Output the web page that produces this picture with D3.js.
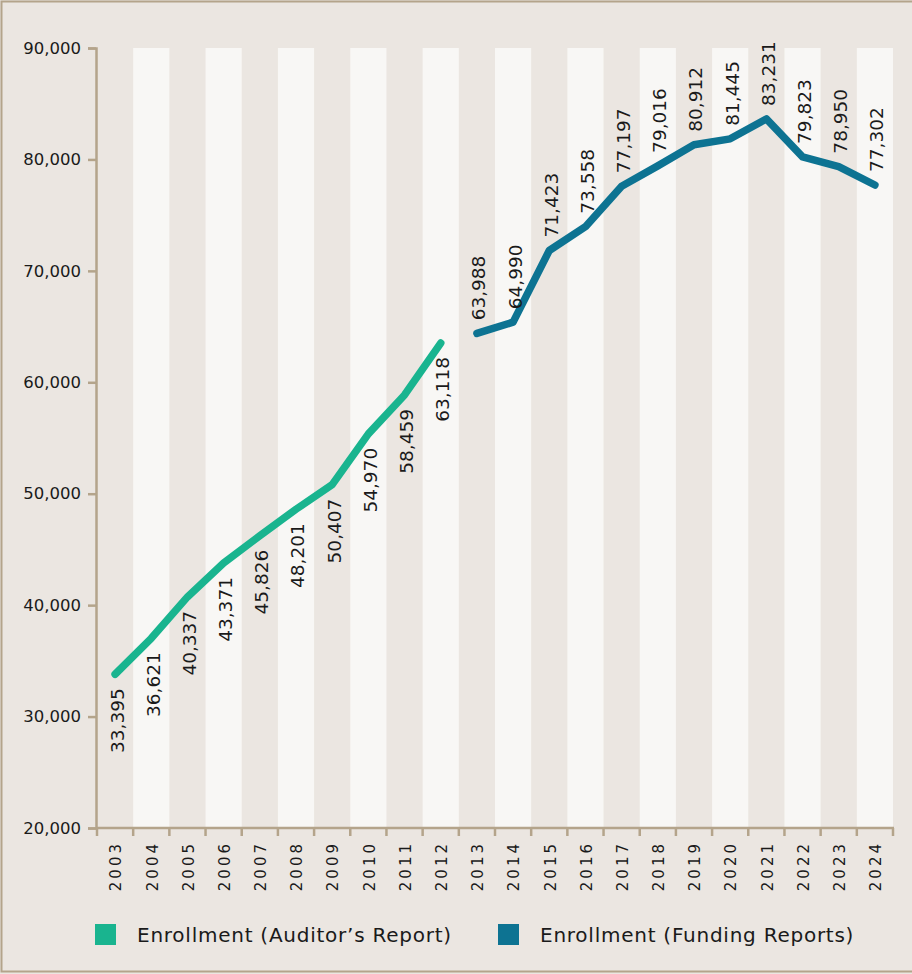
<!DOCTYPE html>
<html>
<head>
<meta charset="utf-8">
<script src="https://cdn.jsdelivr.net/npm/d3@7"></script>
<style>
  html,body{margin:0;padding:0;background:#ebe6e1;}
  svg{display:block;font-family:"DejaVu Sans",sans-serif;}
</style>
</head>
<body>
<div id="chart"></div>
<script>
const years = d3.range(2003, 2025).map(String);
const auditorYears = ['2003','2004','2005','2006','2007','2008','2009','2010','2011','2012'];
const auditorValues = [33395, 36621, 40337, 43371, 45826, 48201, 50407, 54970, 58459, 63118];
const fundingYears = ['2013','2014','2015','2016','2017','2018','2019','2020','2021','2022','2023','2024'];
const fundingValues = [63988, 64990, 71423, 73558, 77197, 79016, 80912, 81445, 83231, 79823, 78950, 77302];
const yTicks = [20000, 30000, 40000, 50000, 60000, 70000, 80000, 90000];
const legendItems = ["Enrollment (Auditor\u2019s Report)", "Enrollment (Funding Reports)"];

const W = 912, H = 974;
const GREEN = '#19b48f', BLUE = '#0d7392', TAN = '#b4a48b', INK = '#1a1a1a';
const FONT = '"DejaVu Sans",sans-serif';
const svg = d3.select('#chart').append('svg').attr('width', W).attr('height', H);

// outer frame
svg.append('rect').attr('x', 1.5).attr('y', 1.5).attr('width', W + 10).attr('height', H - 4)
  .attr('fill', '#ebe6e1').attr('stroke', TAN).attr('stroke-width', 2);

const x = d3.scaleBand().domain(years).range([97, 893]).padding(0);
const y = d3.scaleLinear().domain([20000, 90000]).range([828, 48]);
const yMark = y.copy().range([823.5, 43.5]); // marks sit a touch above the axis grid in the original

// alternating stripes
svg.append('g').selectAll('rect').data(years.filter(d => +d % 2 === 0)).join('rect')
  .attr('x', d => x(d)).attr('y', y(90000))
  .attr('width', x.bandwidth()).attr('height', y(20000) - y(90000))
  .attr('fill', '#f8f7f5');

// y axis
const yAxis = svg.append('g').attr('transform', 'translate(96,0)')
  .call(d3.axisLeft(y).tickValues(yTicks).tickFormat(d3.format(',')).tickSize(8).tickPadding(7));
yAxis.select('.domain').attr('stroke', TAN).attr('stroke-width', 2.5);
yAxis.selectAll('.tick line').attr('stroke', TAN).attr('stroke-width', 2.5);
yAxis.selectAll('.tick text').attr('fill', INK).attr('font-size', 16.5).attr('font-family', FONT);

// x axis, ticks at band edges
const xAxis = svg.append('g').attr('transform', 'translate(0,828)');
xAxis.append('line').attr('x1', 96).attr('x2', 894).attr('stroke', TAN).attr('stroke-width', 2.5);
xAxis.selectAll('line.tk').data(years.concat(['end'])).join('line').attr('class', 'tk')
  .attr('x1', d => d === 'end' ? 893 : x(d)).attr('x2', d => d === 'end' ? 893 : x(d))
  .attr('y1', 0).attr('y2', 8).attr('stroke', TAN).attr('stroke-width', 2.5);
xAxis.selectAll('text').data(years).join('text')
  .attr('transform', d => `translate(${x(d) + x.bandwidth() / 2 + 1},13) rotate(-90)`)
  .attr('text-anchor', 'end').attr('dy', '0.35em')
  .attr('font-size', 15).attr('letter-spacing', 3).attr('fill', INK)
  .text(d => d);

// lines
const line = d3.line().x(d => x(d[0]) + x.bandwidth() / 2).y(d => yMark(d[1]));
const series = [
  {years: auditorYears, values: auditorValues, color: GREEN, below: true},
  {years: fundingYears, values: fundingValues, color: BLUE, below: false}
];
series.forEach(s => {
  const pts = s.years.map((yr, i) => [yr, s.values[i]]);
  svg.append('path').datum(pts).attr('d', line)
    .attr('fill', 'none').attr('stroke', s.color).attr('stroke-width', 7.5)
    .attr('stroke-linejoin', 'round').attr('stroke-linecap', 'round');
  svg.append('g').selectAll('text').data(pts).join('text')
    .attr('transform', d => `translate(${x(d[0]) + x.bandwidth() / 2 + 2},${yMark(d[1]) + (s.below ? 14 : -13)}) rotate(-90)`)
    .attr('text-anchor', s.below ? 'end' : 'start').attr('dy', '0.35em')
    .attr('font-size', 18.5).attr('fill', INK)
    .text(d => d3.format(',')(d[1]));
});

// legend
const lg = svg.append('g');
const lx = [95, 498];
legendItems.forEach((t, i) => {
  lg.append('rect').attr('x', lx[i]).attr('y', 924).attr('width', 21).attr('height', 21)
    .attr('fill', i === 0 ? GREEN : BLUE);
  lg.append('text').attr('x', lx[i] + 42).attr('y', 935).attr('dy', '0.35em')
    .attr('font-size', 20).attr('letter-spacing', 0.75).attr('fill', INK).text(t);
});
</script>
</body>
</html>
